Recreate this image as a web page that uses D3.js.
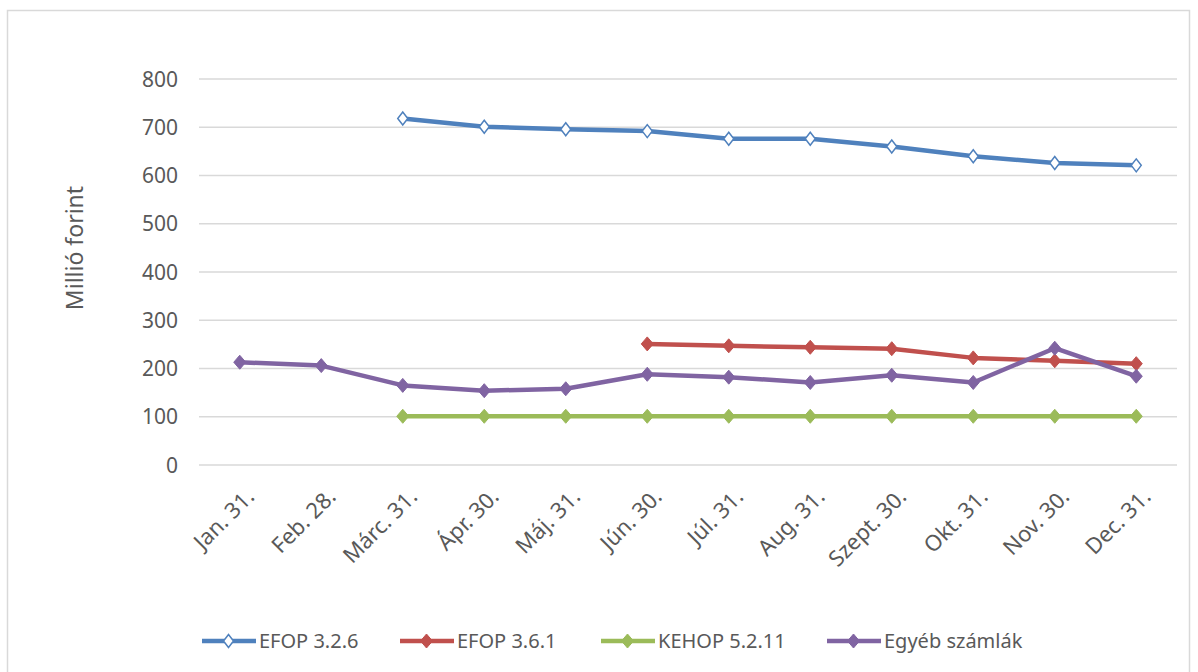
<!DOCTYPE html>
<html><head><meta charset="utf-8">
<script src="https://cdn.jsdelivr.net/npm/d3@7"></script>
<style>body{margin:0;background:#fff}svg{display:block}text{font-family:"Noto Sans",sans-serif;fill:#595959}</style>
</head><body>
<svg id="c" width="1198" height="672"></svg>
<script>
const categories = ["Jan. 31.","Feb. 28.","Márc. 31.","Ápr. 30.","Máj. 31.","Jún. 30.","Júl. 31.","Aug. 31.","Szept. 30.","Okt. 31.","Nov. 30.","Dec. 31."];
const efop326 = [null,null,718,701,696,692,676,676,660,640,626,621];
const efop361 = [null,null,null,null,null,251,247,244,241,222,216,210];
const kehop = [null,null,101,101,101,101,101,101,101,101,101,101];
const egyeb = [213,206,165,154,158,188,182,171,186,171,242,184];
const yTicks = [0,100,200,300,400,500,600,700,800];
const seriesNames = ["EFOP 3.2.6","EFOP 3.6.1","KEHOP 5.2.11","Egyéb számlák"];
const colors = ["#4F81BD","#C0504D","#9BBB59","#8064A2"];
const series = [efop326, efop361, kehop, egyeb];

const svg = d3.select("#c");
svg.append("rect").attr("x",7.5).attr("y",10.5).attr("width",1182).attr("height",680)
  .attr("fill","#fff").attr("stroke","#d9d9d9").attr("stroke-width",1.5);

const x = d3.scaleBand().domain(categories).range([199,1177]);
const y = d3.scaleLinear().domain([0,800]).range([465,79]);

const g = svg.append("g");
g.selectAll("line.grid").data(yTicks).join("line")
  .attr("x1",199).attr("x2",1177).attr("y1",d=>y(d)).attr("y2",d=>y(d))
  .attr("stroke","#d9d9d9").attr("stroke-width",1.5);
g.selectAll("text.yt").data(yTicks).join("text")
  .attr("x",178).attr("y",d=>y(d)).attr("dy","0.36em").attr("text-anchor","end")
  .attr("font-size",21).text(d=>d);

g.selectAll("text.xt").data(categories).join("text")
  .attr("text-anchor","end").attr("font-size",22)
  .attr("transform",d=>`translate(${x(d)+x.bandwidth()/2+16},${498}) rotate(-45)`)
  .text(d=>d);

svg.append("text").attr("transform","translate(83,248) rotate(-90)")
  .attr("text-anchor","middle").attr("font-size",23).text("Millió forint");

const diamond = (cx,cy,w,h)=>`M${cx},${cy-h}L${cx+w},${cy}L${cx},${cy+h}L${cx-w},${cy}Z`;

series.forEach((s,i)=>{
  const pts = categories.map((c,j)=>({c,v:s[j]}));
  const line = d3.line().defined(d=>d.v!=null).x(d=>x(d.c)+x.bandwidth()/2).y(d=>y(d.v));
  svg.append("path").attr("d",line(pts)).attr("fill","none")
    .attr("stroke",colors[i]).attr("stroke-width",4.5).attr("stroke-linejoin","round").attr("stroke-linecap","round");
  svg.append("g").selectAll("path").data(pts.filter(d=>d.v!=null)).join("path")
    .attr("d",d=>diamond(x(d.c)+x.bandwidth()/2,y(d.v),i===0?5:6,i===0?6.5:7))
    .attr("fill",i===0?"#fff":colors[i]).attr("stroke",colors[i]).attr("stroke-width",i===0?1.5:1);
});

const legX = [202,400,601,827];
const lg = svg.append("g");
seriesNames.forEach((n,i)=>{
  const lx = legX[i], ly = 641;
  lg.append("line").attr("x1",lx).attr("x2",lx+54).attr("y1",ly).attr("y2",ly)
    .attr("stroke",colors[i]).attr("stroke-width",4.5);
  lg.append("path").attr("d",diamond(lx+26.5,ly,i===0?5:6,i===0?6.5:7))
    .attr("fill",i===0?"#fff":colors[i]).attr("stroke",colors[i]).attr("stroke-width",i===0?1.5:1);
  lg.append("text").attr("x",lx+57).attr("y",ly).attr("dy","0.36em").attr("font-size",20).text(n);
});
</script>
</body></html>
